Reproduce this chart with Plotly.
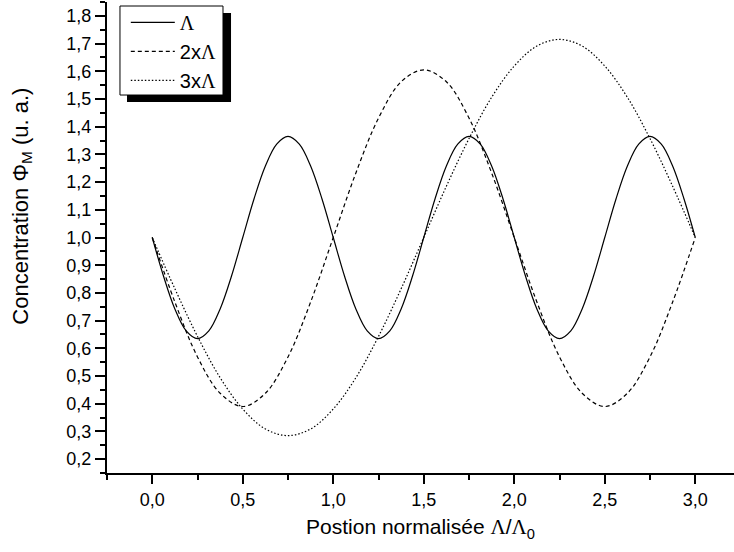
import plotly.graph_objects as go

# --- Dados ---
x_lambda = [0.0, 0.0625, 0.125, 0.1875, 0.25, 0.3125, 0.375, 0.4375, 0.5, 0.5625, 0.625, 0.6875,
            0.75, 0.8125, 0.875, 0.9375, 1.0, 1.0625, 1.125, 1.1875, 1.25, 1.3125, 1.375, 1.4375,
            1.5, 1.5625, 1.625, 1.6875, 1.75, 1.8125, 1.875, 1.9375, 2.0, 2.0625, 2.125, 2.1875,
            2.25, 2.3125, 2.375, 2.4375, 2.5, 2.5625, 2.625, 2.6875, 2.75, 2.8125, 2.875, 2.9375, 3.0]
y_lambda = [1.0, 0.860, 0.742, 0.663, 0.635, 0.663, 0.742, 0.860, 1.0, 1.140, 1.258, 1.337,
            1.365, 1.337, 1.258, 1.140, 1.0, 0.860, 0.742, 0.663, 0.635, 0.663, 0.742, 0.860,
            1.0, 1.140, 1.258, 1.337, 1.365, 1.337, 1.258, 1.140, 1.0, 0.860, 0.742, 0.663,
            0.635, 0.663, 0.742, 0.860, 1.0, 1.140, 1.258, 1.337, 1.365, 1.337, 1.258, 1.140, 1.0]

x_2lambda = [0.0, 0.125, 0.25, 0.375, 0.5, 0.625, 0.75, 0.875, 1.0, 1.125, 1.25, 1.375, 1.5,
             1.625, 1.75, 1.875, 2.0, 2.125, 2.25, 2.375, 2.5, 2.625, 2.75, 2.875, 3.0]
y_2lambda = [1.0, 0.767, 0.569, 0.438, 0.39, 0.438, 0.569, 0.767, 1.0, 1.233, 1.431, 1.562, 1.605,
             1.562, 1.431, 1.233, 1.0, 0.767, 0.569, 0.438, 0.39, 0.438, 0.569, 0.767, 1.0]

x_3lambda = [0.0, 0.125, 0.25, 0.375, 0.5, 0.625, 0.75, 0.875, 1.0, 1.125, 1.25, 1.375, 1.5,
             1.625, 1.75, 1.875, 2.0, 2.125, 2.25, 2.375, 2.5, 2.625, 2.75, 2.875, 3.0]
y_3lambda = [1.0, 0.815, 0.643, 0.494, 0.381, 0.309, 0.285, 0.309, 0.381, 0.494, 0.643, 0.815, 1.0,
             1.185, 1.357, 1.506, 1.619, 1.691, 1.715, 1.691, 1.619, 1.506, 1.357, 1.185, 1.0]

LAM = '<span style="font-family:Liberation Serif">Λ</span>'
series_names = [LAM, '2x' + LAM, '3x' + LAM]
series_dash = ['solid', '4px,3px', '1.5px,2px']

x_ticks = [0.0, 0.5, 1.0, 1.5, 2.0, 2.5, 3.0]
y_ticks = [0.2, 0.3, 0.4, 0.5, 0.6, 0.7, 0.8, 0.9, 1.0, 1.1, 1.2, 1.3, 1.4, 1.5, 1.6, 1.7, 1.8]

FONT = 'Liberation Sans, Arial, sans-serif'

fig = go.Figure()
for xs, ys, name, dash in zip([x_lambda, x_2lambda, x_3lambda],
                              [y_lambda, y_2lambda, y_3lambda],
                              series_names, series_dash):
    fig.add_trace(go.Scatter(
        x=xs, y=ys, name=name, mode='lines',
        line=dict(color='black', width=1.2, dash=dash, shape='spline', smoothing=1.0),
    ))

# caixa da legenda com sombra (estilo Origin)
fig.add_shape(type='rect', xref='paper', yref='paper',
              x0=0.0319, x1=0.1978, y0=0.7877, y1=0.9766,
              fillcolor='black', line=dict(width=0), layer='above')
fig.add_shape(type='rect', xref='paper', yref='paper',
              x0=0.0207, x1=0.1850, y0=0.8025, y1=0.9915,
              fillcolor='white', line=dict(color='black', width=1), layer='above')

fig.add_annotation(
    text='Concentration Φ<sub>M</sub> (u. a.)',
    xref='paper', yref='paper', x=-0.136, y=0.567,
    xanchor='center', yanchor='middle',
    textangle=-90, showarrow=False,
    font=dict(family=FONT, size=22, color='black'),
)

fig.update_layout(
    width=734, height=552,
    margin=dict(l=107, r=0, t=2, b=79, autoexpand=False),
    paper_bgcolor='white', plot_bgcolor='white',
    separators=', ',
    font=dict(family=FONT, size=18, color='black'),
    showlegend=True,
    legend=dict(
        x=0.03, y=0.998, xanchor='left', yanchor='top',
        bgcolor='rgba(0,0,0,0)', borderwidth=0,
        font=dict(family=FONT, size=20, color='black'),
        tracegroupgap=0, itemwidth=44,
    ),
    xaxis=dict(
        range=[-0.25, 3.214], automargin=False,
        tickvals=x_ticks, tickformat='.1f',
        showline=True, linecolor='black', linewidth=2,
        ticks='outside', ticklen=9, tickwidth=2, tickcolor='black',
        minor=dict(dtick=0.25, tick0=0, ticks='outside', ticklen=5, tickwidth=2, tickcolor='black'),
        showgrid=False, zeroline=False,
        title=dict(text='Postion normalisée ' + LAM + '/' + LAM + '<sub>0</sub>',
                   font=dict(family=FONT, size=21), standoff=11),
    ),
    yaxis=dict(
        range=[0.15, 1.85], automargin=False,
        tickvals=y_ticks, tickformat='.1f',
        showline=True, linecolor='black', linewidth=2,
        ticks='outside', ticklen=10, tickwidth=2, tickcolor='black',
        minor=dict(dtick=0.05, tick0=0, ticks='outside', ticklen=5, tickwidth=2, tickcolor='black'),
        showgrid=False, zeroline=False,
    ),
)

fig.write_html('out.html', config={'displayModeBar': False},
               post_script="document.body.style.margin='0px';")
